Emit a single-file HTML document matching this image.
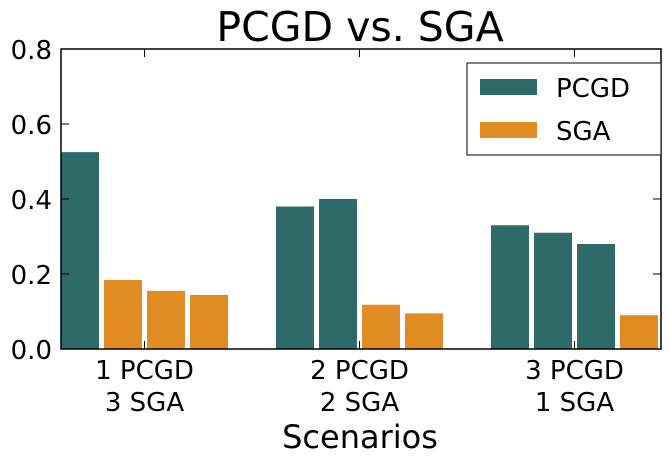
<!DOCTYPE html>
<html><head><meta charset="utf-8"><style>
body{margin:0;background:#fff;}
svg text{font-family:"DejaVu Sans","Liberation Sans",sans-serif;fill:#000;}
</style></head><body>
<svg id="chart" width="669" height="465" xmlns="http://www.w3.org/2000/svg">
<text x="360" y="41" font-size="41" text-anchor="middle">PCGD vs. SGA</text>
<g id="bars"></g>
<rect x="61" y="49" width="600" height="300" fill="none" stroke="#000" stroke-width="1.5"/>
<g id="axes"></g>
<text x="360" y="448" font-size="32" text-anchor="middle">Scenarios</text>
<g>
<rect x="467" y="63" width="194" height="92" fill="#fff" stroke="#000" stroke-width="1"/>
<rect x="480" y="79" width="57" height="16" fill="#2e6b68"/>
<text x="556" y="97" font-size="26">PCGD</text>
<rect x="480" y="122" width="57" height="16" fill="#e08c22"/>
<text x="556" y="140" font-size="26">SGA</text>
</g>
</svg>
<script>
const categories=[["1 PCGD","3 SGA"],["2 PCGD","2 SGA"],["3 PCGD","1 SGA"]];
const groupValues=[[0.525,0.184,0.155,0.144],[0.38,0.40,0.118,0.095],[0.33,0.31,0.28,0.09]];
const groupTypes=[["PCGD","SGA","SGA","SGA"],["PCGD","PCGD","SGA","SGA"],["PCGD","PCGD","PCGD","SGA"]];
const yTicks=[0,0.2,0.4,0.6,0.8];
const yTickLabels=["0.0","0.2","0.4","0.6","0.8"];
const colors={PCGD:"#2e6b68",SGA:"#e08c22"};
const NS="http://www.w3.org/2000/svg";
const y0=349,y1=49,yMax=0.8;
function yScale(v){return y0-(v/yMax)*(y0-y1);}
const gStart=61,gPitch=215,bw=38,bStep=43;
function xBar(g,i){return gStart+g*gPitch+i*bStep;}
const bars=document.getElementById('bars');
groupValues.forEach((vals,g)=>{vals.forEach((v,i)=>{
 const r=document.createElementNS(NS,'rect');
 r.setAttribute('x',xBar(g,i));r.setAttribute('y',yScale(v));
 r.setAttribute('width',bw);r.setAttribute('height',y0-yScale(v));
 r.setAttribute('fill',colors[groupTypes[g][i]]);
 
 
 bars.appendChild(r);});});
const axes=document.getElementById('axes');
yTicks.forEach((t,k)=>{
 const y=yScale(t);
 const l=document.createElementNS(NS,'path');
 l.setAttribute('d',`M61 ${y}H69M661 ${y}H653`);l.setAttribute('stroke','#000');
 
 
 axes.appendChild(l);
 const tx=document.createElementNS(NS,'text');
 tx.setAttribute('x',52);tx.setAttribute('y',y+10);tx.setAttribute('font-size','26');tx.setAttribute('text-anchor','end');
 tx.textContent=yTickLabels[k];
 
 
 axes.appendChild(tx);});
categories.forEach((c,g)=>{
 const cx=xBar(g,0)+(3*bStep+bw)/2;
 const l=document.createElementNS(NS,'path');
 l.setAttribute('d',`M${cx} 349V341M${cx} 49V57`);l.setAttribute('stroke','#000');
 
 
 axes.appendChild(l);
 c.forEach((line,j)=>{
 const tx=document.createElementNS(NS,'text');
 tx.setAttribute('x',cx);tx.setAttribute('y',379+j*32);tx.setAttribute('font-size','26');tx.setAttribute('text-anchor','middle');
 tx.textContent=line;
 
 
 axes.appendChild(tx);});});
</script>
</body></html>
